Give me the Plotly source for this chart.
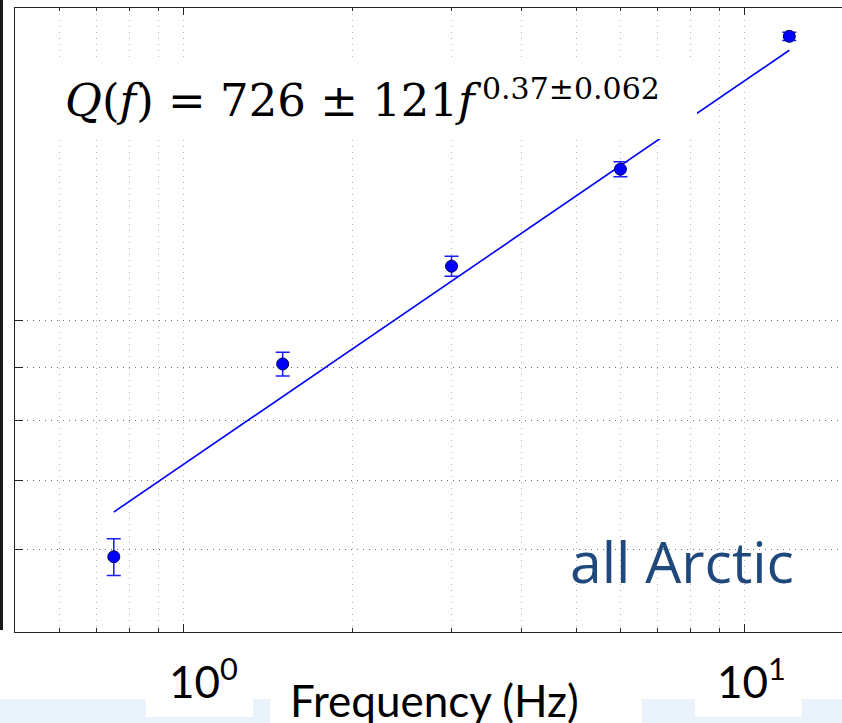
import math
import plotly.graph_objects as go

# Measured quality factor per frequency band
freq_hz = [0.75, 1.5, 3.0, 6.0, 12.0]
q_value = [591, 907, 1127, 1398, 1878]
q_error = [24, 24, 25, 23, 17]

# Power-law fit Q(f) = Q0 * f^eta
fit_q0 = 726
fit_eta = 0.37
fit_freq = [0.75, 12.0]
fit_q = [fit_q0 * f ** fit_eta for f in fit_freq]

# Axis ticks
x_major = [1, 10]
x_minor = [0.6, 0.7, 0.8, 0.9, 2, 3, 4, 5, 6, 7, 8, 9]
x_tick_text = ["10<sup>0</sup>", "10<sup>1</sup>"]
y_ticks = [500, 600, 700, 800, 900, 1000, 2000]

formula_main = "<i>Q</i>(<i>f</i>) = 726 ± 121<i>f</i>"
formula_sup = "0.37±0.062"
region_label = "all Arctic"
x_title = "Frequency (Hz)"

W, H = 842, 723
L, R, T, B = 15, 0, 8, 91
PW, PH = W - L - R, H - T - B


def px_x(px):
    return (px - L) / PW


def px_y(py):
    return (H - B - py) / PH


x_range = [math.log10(0.5), math.log10(0.5) + PW / 561.0]
y_range = [math.log10(500), math.log10(2000)]

fig = go.Figure()

fig.add_trace(go.Scatter(
    x=fit_freq, y=fit_q, mode="lines",
    line=dict(color="#0000ff", width=1.6),
    hoverinfo="skip", showlegend=False,
))
fig.add_trace(go.Scatter(
    x=freq_hz, y=q_value, mode="markers",
    marker=dict(color="#0000ff", size=12, line=dict(color="#000060", width=1)),
    error_y=dict(type="data", array=q_error, color="#1a1aff", thickness=1.5, width=7),
    showlegend=False,
))
# anchor trace for the top axis
fig.add_trace(go.Scatter(
    x=[1], y=[1000], xaxis="x2", mode="markers",
    marker=dict(opacity=0), hoverinfo="skip", showlegend=False,
))

axis_line = dict(showline=True, linecolor="#262626", linewidth=1.3)

fig.update_layout(
    width=W, height=H,
    margin=dict(l=L, r=R, t=T, b=B, pad=0),
    paper_bgcolor="white", plot_bgcolor="white",
    xaxis=dict(
        type="log", range=x_range, **axis_line,
        tickmode="array", tickvals=x_major, showticklabels=False,
        ticks="inside", ticklen=8, tickwidth=1, tickcolor="#262626",
        showgrid=True, gridcolor="#b4b4b4", gridwidth=1, griddash="1px,5px",
        zeroline=False,
        minor=dict(tickmode="array", tickvals=x_minor, ticks="inside", ticklen=4,
                   tickcolor="#262626", tickwidth=1, showgrid=True,
                   gridcolor="#b4b4b4", gridwidth=1, griddash="1px,5px"),
    ),
    xaxis2=dict(
        type="log", range=x_range, overlaying="x", side="top", **axis_line,
        tickmode="array", tickvals=x_major, showticklabels=False,
        ticks="inside", ticklen=7, tickwidth=1, tickcolor="#262626",
        showgrid=False, zeroline=False,
        minor=dict(tickmode="array", tickvals=x_minor, ticks="inside", ticklen=3,
                   tickcolor="#262626", tickwidth=1, showgrid=False),
    ),
    yaxis=dict(
        type="log", range=y_range, **axis_line,
        tickmode="array", tickvals=y_ticks, showticklabels=False,
        ticks="inside", ticklen=8, tickwidth=1, tickcolor="#262626",
        showgrid=True, gridcolor="#6e6e6e", gridwidth=1, griddash="1px,5px",
        zeroline=False,
    ),
)

shapes = []
# vertical rule at the far left
shapes.append(dict(type="line", xref="paper", yref="paper",
                   x0=px_x(1.5), x1=px_x(1.5), y0=px_y(0), y1=px_y(630),
                   line=dict(color="#1a1a1a", width=3)))
# light-blue strips below the axis
for x0, x1 in [(0, 270), (642, 842)]:
    shapes.append(dict(type="rect", xref="paper", yref="paper",
                       x0=px_x(x0), x1=px_x(x1), y0=px_y(699), y1=px_y(723),
                       fillcolor="#eaf2fc", line=dict(width=0), layer="above"))
# white backings behind the tick labels
for x0, x1 in [(146, 253), (695, 802)]:
    shapes.append(dict(type="rect", xref="paper", yref="paper",
                       x0=px_x(x0), x1=px_x(x1), y0=px_y(650), y1=px_y(717),
                       fillcolor="white", line=dict(width=0), layer="above"))
# white backing behind the formula
shapes.append(dict(type="rect", xref="paper", yref="paper",
                   x0=px_x(30), x1=px_x(697), y0=px_y(57), y1=px_y(139),
                   fillcolor="white", line=dict(width=0), layer="above"))
fig.update_layout(shapes=shapes)

annotations = [
    dict(text=formula_main, xref="paper", yref="paper",
         x=px_x(63), y=px_y(100), xanchor="left", yanchor="middle",
         showarrow=False, font=dict(family="DejaVu Serif", size=45, color="black")),
    dict(text=formula_sup, xref="paper", yref="paper",
         x=px_x(480), y=px_y(88), xanchor="left", yanchor="middle",
         showarrow=False, font=dict(family="DejaVu Serif", size=30, color="black")),
    dict(text=region_label, xref="paper", yref="paper",
         x=px_x(568), y=px_y(561), xanchor="left", yanchor="middle",
         showarrow=False, font=dict(family="Open Sans", size=57, color="#1f497d")),
    dict(text=x_title, xref="paper", yref="paper",
         x=px_x(288), y=px_y(700), xanchor="left", yanchor="middle",
         showarrow=False, font=dict(family="Lato", size=44, color="black")),
]
tick_label_shift = [-17, -30]
for v, t, s in zip(x_major, x_tick_text, tick_label_shift):
    annotations.append(dict(text=t, xref="x", yref="paper",
                            x=math.log10(v), y=px_y(678), xanchor="left", yanchor="middle",
                            xshift=s, showarrow=False,
                            font=dict(family="Lato", size=44, color="black")))
fig.update_layout(annotations=annotations)

fig.write_html("out.html")
